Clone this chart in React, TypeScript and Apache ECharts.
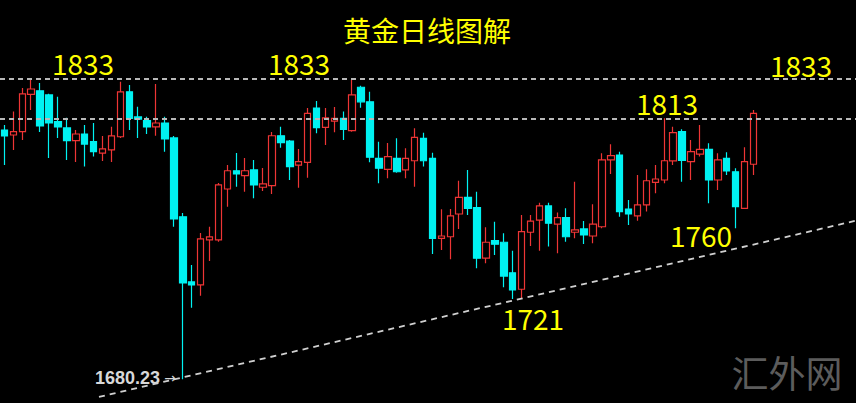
import React, { useEffect, useRef } from "react";
import * as echarts from "echarts";

// daily candles: [open, close, low, high]
const candles: number[][] = [
  [1807.0, 1804.0, 1789.2, 1809.6],
  [1804.5, 1806.2, 1796.9, 1816.4],
  [1806.2, 1825.4, 1802.0, 1828.4],
  [1825.2, 1827.9, 1817.2, 1832.5],
  [1827.0, 1809.1, 1806.0, 1831.0],
  [1824.9, 1810.6, 1792.8, 1825.5],
  [1811.3, 1808.6, 1803.0, 1824.0],
  [1808.1, 1801.6, 1791.8, 1813.3],
  [1801.6, 1805.0, 1790.8, 1807.0],
  [1805.0, 1799.9, 1788.4, 1809.6],
  [1801.1, 1796.0, 1793.5, 1810.6],
  [1795.3, 1797.4, 1791.3, 1804.0],
  [1796.9, 1804.0, 1790.8, 1808.7],
  [1803.6, 1826.4, 1803.0, 1831.6],
  [1826.5, 1813.0, 1807.0, 1830.0],
  [1813.7, 1812.6, 1803.0, 1818.9],
  [1811.8, 1808.6, 1805.0, 1813.8],
  [1808.6, 1810.6, 1804.1, 1830.5],
  [1810.6, 1802.5, 1796.0, 1813.8],
  [1803.0, 1761.8, 1757.8, 1804.0],
  [1762.9, 1729.2, 1680.23, 1764.8],
  [1729.7, 1728.2, 1716.6, 1738.3],
  [1728.2, 1751.6, 1722.7, 1754.6],
  [1751.1, 1752.6, 1740.4, 1757.8],
  [1751.1, 1779.1, 1750.2, 1780.1],
  [1777.0, 1786.3, 1768.0, 1789.2],
  [1786.3, 1784.7, 1778.2, 1795.3],
  [1783.8, 1786.3, 1775.6, 1792.8],
  [1786.7, 1779.1, 1772.3, 1791.8],
  [1777.9, 1779.6, 1776.0, 1787.7],
  [1778.7, 1804.1, 1774.5, 1806.0],
  [1804.1, 1800.6, 1798.0, 1808.7],
  [1801.4, 1788.4, 1781.6, 1802.0],
  [1789.2, 1790.9, 1777.7, 1797.4],
  [1790.6, 1815.5, 1782.8, 1818.2],
  [1818.2, 1808.2, 1805.4, 1821.8],
  [1808.4, 1813.2, 1799.4, 1818.2],
  [1811.6, 1813.0, 1805.9, 1818.8],
  [1813.0, 1807.4, 1802.0, 1816.4],
  [1806.7, 1824.9, 1806.2, 1832.5],
  [1828.8, 1821.4, 1818.4, 1829.6],
  [1821.4, 1793.2, 1790.6, 1826.5],
  [1792.6, 1787.6, 1779.9, 1801.1],
  [1787.0, 1793.5, 1782.5, 1800.4],
  [1792.6, 1785.8, 1785.3, 1802.8],
  [1786.7, 1792.6, 1782.5, 1797.7],
  [1791.4, 1803.3, 1778.2, 1807.9],
  [1802.8, 1791.4, 1788.4, 1805.7],
  [1792.6, 1751.9, 1743.9, 1795.5],
  [1751.9, 1753.1, 1746.0, 1766.7],
  [1752.7, 1763.3, 1741.2, 1766.8],
  [1764.3, 1772.8, 1756.7, 1781.2],
  [1772.8, 1767.2, 1763.8, 1786.7],
  [1767.5, 1741.8, 1736.7, 1775.6],
  [1741.8, 1749.9, 1739.2, 1757.5],
  [1750.7, 1748.9, 1743.4, 1760.4],
  [1749.9, 1732.7, 1727.0, 1754.5],
  [1734.4, 1725.6, 1721.0, 1745.6],
  [1726.0, 1755.3, 1721.2, 1763.8],
  [1755.0, 1760.7, 1748.0, 1763.8],
  [1761.2, 1768.4, 1745.6, 1770.0],
  [1768.4, 1759.6, 1747.7, 1770.0],
  [1759.1, 1762.4, 1744.3, 1765.0],
  [1762.4, 1752.7, 1750.2, 1767.2],
  [1755.0, 1756.2, 1751.9, 1780.7],
  [1756.7, 1753.6, 1749.0, 1760.7],
  [1753.1, 1759.1, 1749.4, 1769.2],
  [1757.8, 1791.8, 1757.0, 1795.2],
  [1791.8, 1794.0, 1784.7, 1799.8],
  [1794.3, 1765.5, 1762.9, 1796.0],
  [1766.8, 1764.3, 1758.7, 1771.4],
  [1763.3, 1768.9, 1760.9, 1784.1],
  [1768.9, 1781.2, 1765.5, 1787.0],
  [1780.4, 1782.1, 1774.8, 1789.2],
  [1781.6, 1791.4, 1779.9, 1813.0],
  [1791.3, 1805.7, 1789.2, 1808.7],
  [1806.2, 1791.6, 1780.7, 1807.4],
  [1790.9, 1796.0, 1781.6, 1802.0],
  [1794.8, 1797.2, 1793.5, 1809.6],
  [1797.2, 1781.6, 1769.7, 1800.3],
  [1781.6, 1791.8, 1776.5, 1795.2],
  [1792.6, 1786.2, 1784.1, 1795.7],
  [1785.8, 1768.0, 1757.0, 1787.6],
  [1767.2, 1790.9, 1767.0, 1798.2],
  [1789.6, 1815.5, 1784.1, 1817.2],
];

// 85 trading days plus empty room on the right
const categories: string[] = Array.from({ length: 96 }, (_, i) => `D${i + 1}`);

// horizontal resistance levels
const resistanceLevels = [1833, 1813];

// rising support line: [day index, price]
const supportLine: number[][] = [
  [10.6, 1671.2],
  [95.5, 1760.9],
];

// annotation labels
const levelLabels = [
  { text: "1833", x: 83, y: 63 },
  { text: "1833", x: 299, y: 63 },
  { text: "1833", x: 801, y: 65 },
  { text: "1813", x: 667, y: 103 },
  { text: "1760", x: 701, y: 235 },
  { text: "1721", x: 533, y: 318 },
];
const titleText = "黄金日线图解";
const lowText = "1680.23";
const watermark = "汇外网";

const RED = "#ee3535";
const CYAN = "#00f2f2";

export default function App() {
  const ref = useRef<HTMLDivElement>(null);
  useEffect(() => {
    if (!ref.current) return;
    const chart = echarts.init(ref.current, undefined, { renderer: "svg" });
    const cjk = '"Noto Sans CJK SC", "Noto Sans", sans-serif';
    chart.setOption({
      animation: false,
      backgroundColor: "#000000",
      grid: { left: -3, right: -5, top: 0, bottom: 0 },
      xAxis: [
        {
          type: "category",
          data: categories,
          boundaryGap: true,
          show: false,
        },
        {
          type: "value",
          min: -0.5,
          max: 95.5,
          show: false,
        },
      ],
      yAxis: {
        type: "value",
        min: 1668.1,
        max: 1873.2,
        show: false,
        scale: true,
        splitLine: { show: false },
      },
      series: [
        {
          type: "candlestick",
          data: candles,
          barWidth: 7,
          itemStyle: {
            color: "transparent",
            color0: CYAN,
            borderColor: RED,
            borderColor0: CYAN,
            borderWidth: 1.2,
          },
          markLine: {
            symbol: "none",
            silent: true,
            label: { show: false },
            lineStyle: { color: "#b8b8b8", type: [5, 4], width: 1.8 },
            data: resistanceLevels.map((v) => ({ yAxis: v })),
          },
        },
        {
          type: "line",
          xAxisIndex: 1,
          yAxisIndex: 0,
          data: supportLine,
          symbol: "none",
          silent: true,
          lineStyle: { color: "#d0d0d0", type: [6, 5], width: 1.8 },
        },
      ],
      graphic: [
        {
          type: "text",
          x: 427,
          y: 30,
          style: {
            text: titleText,
            fill: "#ffff00",
            fontSize: 28,
            fontFamily: cjk,
            align: "center",
            verticalAlign: "middle",
          },
        },
        ...levelLabels.map((l) => ({
          type: "text",
          x: l.x,
          y: l.y,
          style: {
            text: l.text,
            fill: "#ffff00",
            fontSize: 28,
            fontFamily: cjk,
            align: "center",
            verticalAlign: "middle",
          },
        })),
        {
          type: "text",
          x: 160,
          y: 378,
          style: {
            text: lowText,
            fill: "#d8d8d8",
            fontSize: 18,
            fontWeight: "bold",
            fontFamily: '"Liberation Sans", Arial, sans-serif',
            align: "right",
            verticalAlign: "middle",
          },
        },
        {
          type: "text",
          x: 170,
          y: 378,
          style: {
            text: "→",
            fill: "#d8d8d8",
            fontSize: 14,
            fontFamily: '"DejaVu Sans", sans-serif',
            align: "center",
            verticalAlign: "middle",
          },
        },
        {
          type: "text",
          x: 787,
          y: 372,
          style: {
            text: watermark,
            fill: "#5c5c5c",
            fontSize: 37,
            fontFamily: cjk,
            align: "center",
            verticalAlign: "middle",
          },
        },
      ],
    });
    return () => chart.dispose();
  }, []);
  return (
    <div
      ref={ref}
      style={{ position: "fixed", left: 0, top: 0, width: 856, height: 403 }}
    />
  );
}
